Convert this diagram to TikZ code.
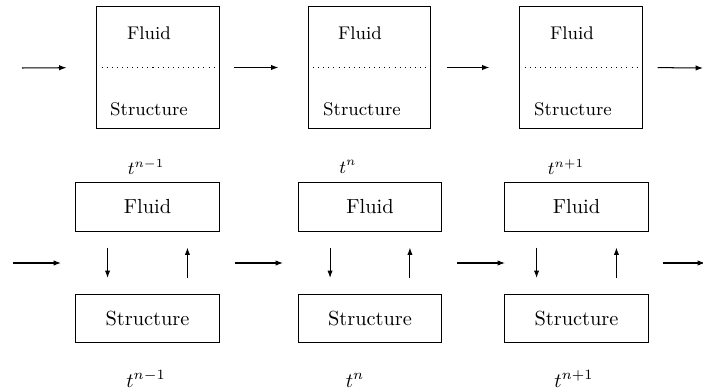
\documentclass[tikz,border=0pt]{standalone}
\usetikzlibrary{arrows.meta}

\tikzset{
  flow/.style={line width=0.5pt, -{Latex[length=3.6pt,width=2.6pt]}},
  stackbox/.style={draw, line width=0.5pt, minimum width=59.9pt, minimum height=59.4pt, inner sep=0pt},
  solvebox/.style={draw, line width=0.5pt, minimum width=70.4pt, minimum height=23.6pt, inner sep=0pt},
  smalltxt/.style={font=\small, inner sep=0pt},
  timelbl/.style={inner sep=0pt, anchor=base}
}

\begin{document}
\begin{tikzpicture}[x=0.4907pt, y=-0.4907pt]
  \useasboundingbox (0,0) rectangle (703,391);

  % monolithic coupling
  \node[stackbox] (m1) at (158,67.5) {};
  \node[stackbox] (m2) at (369.5,67.5) {};
  \node[stackbox] (m3) at (581,67.5) {};
  \draw[dotted, line width=0.5pt] (m1.west) -- (m1.east);
  \draw[dotted, line width=0.5pt] (m2.west) -- (m2.east);
  \draw[dotted, line width=0.5pt] (m3.west) -- (m3.east);
  \node[smalltxt] (mf1) at (149,33) {Fluid};
  \node[smalltxt] (mf2) at (360,33) {Fluid};
  \node[smalltxt] (mf3) at (572,33) {Fluid};
  \node[smalltxt] (ms1) at (149,109) {Structure};
  \node[smalltxt] (ms2) at (362,109) {Structure};
  \node[smalltxt] (ms3) at (573,109) {Structure};
  \node[smalltxt] (mt1) at (146,167) {$t^{n-1}$};
  \node[smalltxt] (mt2) at (348,167) {$t^{n}$};
  \node[smalltxt] (mt3) at (566,167) {$t^{n+1}$};

  \coordinate (min) at (22,68);
  \coordinate (mout) at (703,68);
  \draw[flow, shorten >=14.7pt] (min) -- (m1.west);
  \draw[flow, shorten <=7.2pt, shorten >=14.5pt] (m1.east) -- (m2.west);
  \draw[flow, shorten <=7.7pt, shorten >=14.7pt] (m2.east) -- (m3.west);
  \draw[flow, shorten <=7.4pt] (m3.east) -- (mout);

  % partitioned coupling
  \node[solvebox] (f1) at (147.5,207) {Fluid};
  \node[solvebox] (f2) at (370,207) {Fluid};
  \node[solvebox] (f3) at (576.5,207) {Fluid};
  \node[solvebox] (s1) at (147.5,318.5) {Structure};
  \node[solvebox] (s2) at (370,318.5) {Structure};
  \node[solvebox] (s3) at (576.5,318.5) {Structure};
  \node[timelbl] (pt1) at (146,387) {$t^{n-1}$};
  \node[timelbl] (pt2) at (355,387) {$t^{n}$};
  \node[timelbl] (pt3) at (574,387) {$t^{n+1}$};

  \draw[flow, shorten <=7.85pt, shorten >=7.85pt] ([xshift=-19.6pt]f1.south) -- ([xshift=-19.6pt]s1.north);
  \draw[flow, shorten <=7.85pt, shorten >=7.85pt] ([xshift=19.6pt]s1.north) -- ([xshift=19.6pt]f1.south);
  \draw[flow, shorten <=7.85pt, shorten >=7.85pt] ([xshift=-19.6pt]f2.south) -- ([xshift=-19.6pt]s2.north);
  \draw[flow, shorten <=7.85pt, shorten >=7.85pt] ([xshift=19.6pt]s2.north) -- ([xshift=19.6pt]f2.south);
  \draw[flow, shorten <=7.85pt, shorten >=7.85pt] ([xshift=-19.6pt]f3.south) -- ([xshift=-19.6pt]s3.north);
  \draw[flow, shorten <=7.85pt, shorten >=7.85pt] ([xshift=19.6pt]s3.north) -- ([xshift=19.6pt]f3.south);

  \coordinate (h0a) at (13,263);  \coordinate (h0b) at (61,263);
  \coordinate (h1a) at (235,263); \coordinate (h1b) at (283,263);
  \coordinate (h2a) at (457,263); \coordinate (h2b) at (505,263);
  \coordinate (h3a) at (663,263); \coordinate (h3b) at (705,263);
  \draw[flow] (h0a) -- (h0b);
  \draw[flow] (h1a) -- (h1b);
  \draw[flow] (h2a) -- (h2b);
  \draw[flow] (h3a) -- (h3b);
\end{tikzpicture}
\end{document}
